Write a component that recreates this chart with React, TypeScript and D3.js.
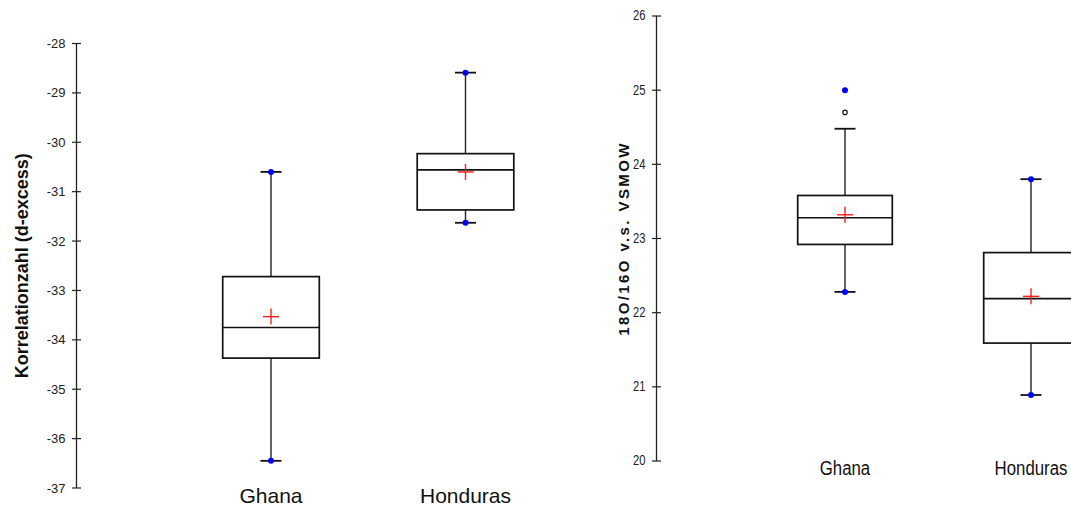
import React from "react";
import * as d3 from "d3";

// Categories shared by both panels
const categories = ["Ghana", "Honduras"];

// Panel 1: d-excess (Korrelationzahl)
const dexMin = [-36.45, -31.63];
const dexQ1 = [-34.37, -31.37];
const dexMedian = [-33.75, -30.56];
const dexQ3 = [-32.72, -30.23];
const dexMax = [-30.6, -28.59];
const dexMean = [-33.53, -30.6];
const dexWhiskerLow = [-36.45, -31.63];
const dexWhiskerHigh = [-30.6, -28.59];
const dexTicks = [-37, -36, -35, -34, -33, -32, -31, -30, -29, -28];

// Panel 2: 18O/16O vs VSMOW
const oxyMin = [22.28, 20.89];
const oxyQ1 = [22.92, 21.59];
const oxyMedian = [23.28, 22.19];
const oxyQ3 = [23.58, 22.81];
const oxyMax = [25.0, 23.8];
const oxyMean = [23.32, 22.22];
const oxyWhiskerLow = [22.28, 20.89];
const oxyWhiskerHigh = [24.48, 23.8];
const oxyOutlierCats = ["Ghana"];
const oxyOutlierVals = [24.7];
const oxyTicks = [20, 21, 22, 23, 24, 25, 26];

const FONT = "'Liberation Sans', Arial, Helvetica, sans-serif";

type PanelProps = {
  x: d3.ScalePoint<string>;
  y: d3.ScaleLinear<number, number>;
  axisX: number;
  ticks: number[];
  boxHalf: number;
  min: number[];
  q1: number[];
  median: number[];
  q3: number[];
  max: number[];
  mean: number[];
  wLow: number[];
  wHigh: number[];
  outCats?: string[];
  outVals?: number[];
  tickFont: number;
  squeeze: number;
  title: string;
  titleX: number;
  titleSize: number;
  titleSpacing: number;
  catY: number;
  catFont: number;
};

function Panel(p: PanelProps) {
  const capHalf = 10.5;
  const [d0, d1] = p.y.domain();
  return (
    <g>
      {/* axis line and ticks */}
      <line x1={p.axisX} x2={p.axisX} y1={p.y(d0)} y2={p.y(d1)} stroke="#222" strokeWidth={1.3} />
      {p.ticks.map((t) => (
        <g key={t}>
          <line x1={p.axisX - 4.5} x2={p.axisX + 4.5} y1={p.y(t)} y2={p.y(t)} stroke="#222" strokeWidth={1.2} />
          <text
            transform={`translate(${p.axisX - 11},${p.y(t)}) scale(${p.squeeze},1)`}
            textAnchor="end"
            dominantBaseline="central"
            fontSize={p.tickFont}
            fill="#222"
            fontFamily={FONT}
          >
            {t}
          </text>
        </g>
      ))}
      <text
        transform={`translate(${p.titleX},${(p.y(d0) + p.y(d1)) / 2}) rotate(-90)`}
        textAnchor="middle"
        dominantBaseline="central"
        fontSize={p.titleSize}
        fontWeight="bold"
        letterSpacing={p.titleSpacing}
        fill="#111"
        fontFamily={FONT}
      >
        {p.title}
      </text>
      {categories.map((c, i) => {
        const cx = p.x(c) as number;
        return (
          <g key={c}>
            {/* whiskers */}
            <line x1={cx} x2={cx} y1={p.y(p.wHigh[i])} y2={p.y(p.q3[i])} stroke="#222" strokeWidth={1.4} />
            <line x1={cx} x2={cx} y1={p.y(p.q1[i])} y2={p.y(p.wLow[i])} stroke="#222" strokeWidth={1.4} />
            <line x1={cx - capHalf} x2={cx + capHalf} y1={p.y(p.wHigh[i])} y2={p.y(p.wHigh[i])} stroke="#111" strokeWidth={1.8} />
            <line x1={cx - capHalf} x2={cx + capHalf} y1={p.y(p.wLow[i])} y2={p.y(p.wLow[i])} stroke="#111" strokeWidth={1.8} />
            {/* box */}
            <rect
              x={cx - p.boxHalf}
              y={p.y(p.q3[i])}
              width={p.boxHalf * 2}
              height={p.y(p.q1[i]) - p.y(p.q3[i])}
              fill="none"
              stroke="#111"
              strokeWidth={1.7}
            />
            <line x1={cx - p.boxHalf} x2={cx + p.boxHalf} y1={p.y(p.median[i])} y2={p.y(p.median[i])} stroke="#111" strokeWidth={1.7} />
            {/* mean */}
            <line x1={cx - 8} x2={cx + 8} y1={p.y(p.mean[i])} y2={p.y(p.mean[i])} stroke="#ff1a1a" strokeWidth={1.4} />
            <line x1={cx} x2={cx} y1={p.y(p.mean[i]) - 8} y2={p.y(p.mean[i]) + 8} stroke="#ff1a1a" strokeWidth={1.4} />
            {/* min and max */}
            <circle cx={cx} cy={p.y(p.min[i])} r={3} fill="#0000ff" />
            <circle cx={cx} cy={p.y(p.max[i])} r={3} fill="#0000ff" />
            <text
              transform={`translate(${cx},${p.catY}) scale(${p.squeeze},1)`}
              textAnchor="middle"
              dominantBaseline="central"
              fontSize={p.catFont}
              fill="#111"
              fontFamily={FONT}
            >
              {c}
            </text>
          </g>
        );
      })}
      {(p.outCats || []).map((c, i) => (
        <circle
          key={`o${i}`}
          cx={p.x(c) as number}
          cy={p.y((p.outVals as number[])[i])}
          r={2.2}
          fill="#fff"
          stroke="#111"
          strokeWidth={1.2}
        />
      ))}
    </g>
  );
}

export default function App() {
  const xLeft = d3.scalePoint<string>().domain(categories).range([271, 465.5]);
  const yLeft = d3.scaleLinear().domain([-37, -28]).range([488, 43.5]);
  const xRight = d3.scalePoint<string>().domain(categories).range([845, 1031]);
  const yRight = d3.scaleLinear().domain([20, 26]).range([461, 16]);

  return (
    <svg
      width={1071}
      height={508}
      style={{ position: "absolute", left: 0, top: 0, background: "#fff" }}
    >
      <rect width={1071} height={508} fill="#fff" />
      <Panel
        x={xLeft}
        y={yLeft}
        axisX={76.5}
        ticks={dexTicks}
        boxHalf={48.3}
        min={dexMin}
        q1={dexQ1}
        median={dexMedian}
        q3={dexQ3}
        max={dexMax}
        mean={dexMean}
        wLow={dexWhiskerLow}
        wHigh={dexWhiskerHigh}
        tickFont={13}
        squeeze={1}
        title="Korrelationzahl (d-excess)"
        titleX={22}
        titleSize={18}
        titleSpacing={0}
        catY={495}
        catFont={21}
      />
      <Panel
        x={xRight}
        y={yRight}
        axisX={656.5}
        ticks={oxyTicks}
        boxHalf={47.3}
        min={oxyMin}
        q1={oxyQ1}
        median={oxyMedian}
        q3={oxyQ3}
        max={oxyMax}
        mean={oxyMean}
        wLow={oxyWhiskerLow}
        wHigh={oxyWhiskerHigh}
        outCats={oxyOutlierCats}
        outVals={oxyOutlierVals}
        tickFont={14}
        squeeze={0.8}
        title="18O/16O v.s. VSMOW"
        titleX={623}
        titleSize={15}
        titleSpacing={2.4}
        catY={468}
        catFont={21}
      />
    </svg>
  );
}
